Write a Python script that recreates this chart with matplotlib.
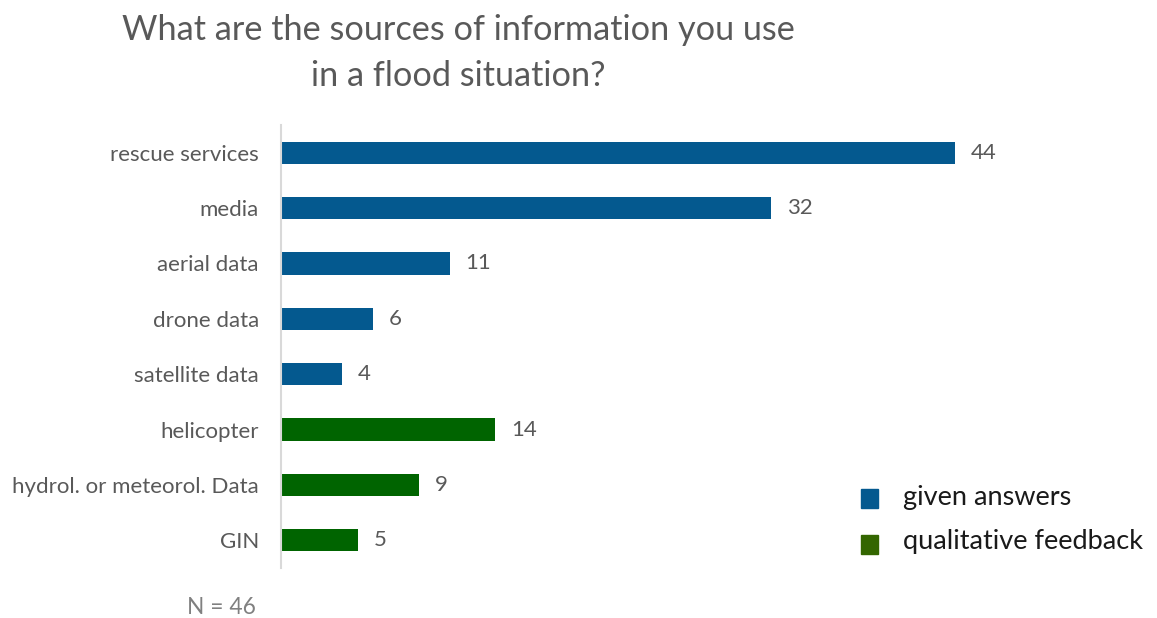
import matplotlib
matplotlib.use("Agg")
import matplotlib.pyplot as plt
from matplotlib.patches import Rectangle

plt.rcParams['font.family'] = ['Lato', 'DejaVu Sans']

categories = ["rescue services", "media", "aerial data", "drone data",
              "satellite data", "helicopter", "hydrol. or meteorol. Data", "GIN"]
values = [44, 32, 11, 6, 4, 14, 9, 5]
groups = ["given answers"] * 5 + ["qualitative feedback"] * 3

bar_colors = {"given answers": "#04598F", "qualitative feedback": "#006400"}
legend_colors = {"given answers": "#04598F", "qualitative feedback": "#336600"}
text_gray = "#595959"

W, H = 1157, 618
fig = plt.figure(figsize=(W / 100, H / 100), dpi=100)

# axes placed in pixel terms: left 281, top 125, bottom 568
left, top, bottom = 281, 125, 568
xmax = 50
px_per_unit = (955 - 281) / 44
width_px = xmax * px_per_unit
ax = fig.add_axes([left / W, 1 - bottom / H, width_px / W, (bottom - top) / H])

ypos = list(range(len(categories)))
ax.barh(ypos, values, height=0.4,
        color=[bar_colors[g] for g in groups], zorder=2)
ax.set_ylim(len(categories) - 0.5, -0.5)
ax.set_xlim(0, xmax)

for y, v in zip(ypos, values):
    ax.annotate(str(v), (v, y), xytext=(11.5, 0), textcoords="offset points",
                va="center", ha="left", fontsize=16, color=text_gray)

ax.set_yticks(ypos)
ax.set_yticklabels(categories, fontsize=16, color=text_gray)
ax.tick_params(axis="y", length=0, pad=16)
ax.set_xticks([])
for s in ["top", "right", "bottom"]:
    ax.spines[s].set_visible(False)
ax.spines["left"].set_color("#d9d9d9")
ax.spines["left"].set_linewidth(1.5)

fig.text(458 / W, 1 - 53 / H,
         "What are the sources of information you use\nin a flood situation?",
         ha="center", va="center", fontsize=24.7, color=text_gray,
         linespacing=1.55)

# legend drawn as squares plus labels
for i, g in enumerate(["given answers", "qualitative feedback"]):
    yc = 498 + i * 46
    fig.patches.append(Rectangle((861 / W, 1 - (yc + 10) / H), 17 / W, 19 / H,
                                 transform=fig.transFigure,
                                 color=legend_colors[g]))
    fig.text(903 / W, 1 - (yc - i * 2) / H, g, ha="left", va="center",
             fontsize=19.5, color="#1a1a1a")

fig.text(221 / W, 1 - 607 / H, "N = 46", ha="center", va="center",
         fontsize=16.4, color="#808080")

fig.savefig("out.png", dpi=100)
